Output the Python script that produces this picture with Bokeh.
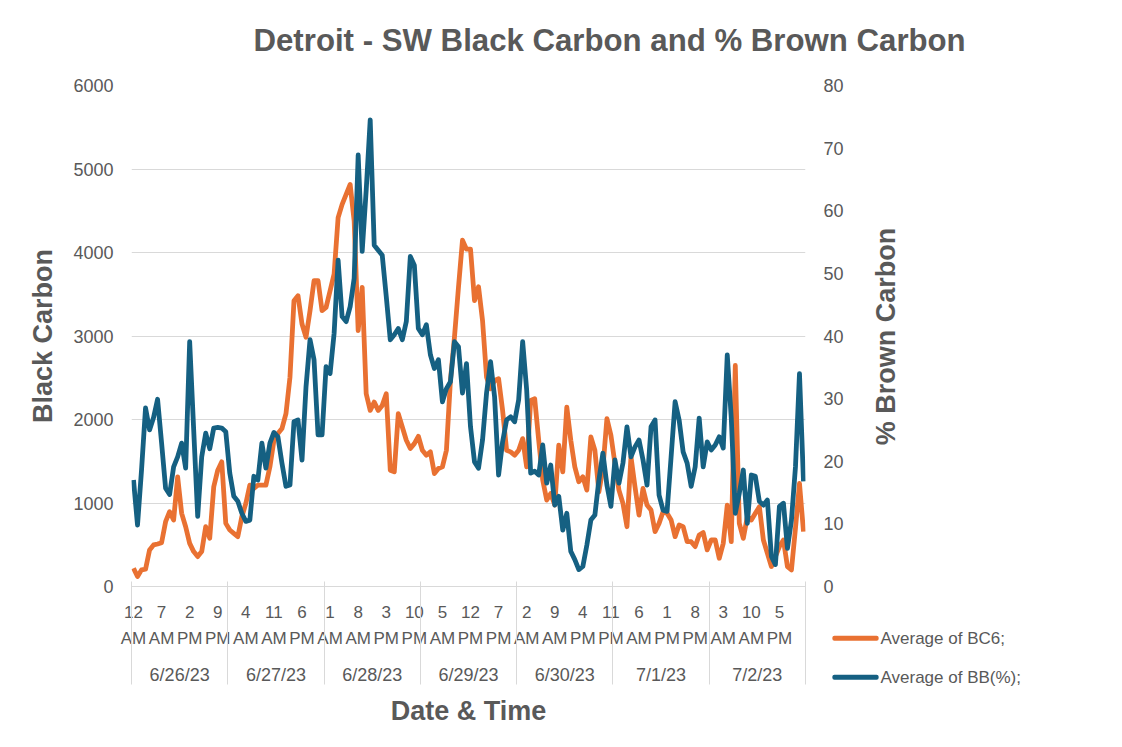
import math
import pandas as pd
from bokeh.plotting import figure
from bokeh.models import Range1d, LinearAxis, FixedTicker, Title, Label
from bokeh.embed import file_html
from bokeh.resources import INLINE

# ---------------- data ----------------
times = pd.date_range("2023-06-26 00:00", periods=168, freq="h")

bc6 = [219, 119, 199, 207, 438, 498, 509, 525, 776, 896, 796, 1313, 876, 716, 517, 418,
       358, 418, 716, 577, 1194, 1393, 1493, 756, 677, 637, 597, 836, 995, 1214, 1174, 1214,
       1214, 1214, 1433, 1751, 1831, 1891, 2070, 2507, 3423, 3483, 3144, 2985, 3303, 3662, 3662, 3303,
       3343, 3542, 3741, 4418, 4577, 4696, 4816, 4378, 3065, 3582, 2308, 2109, 2209, 2109, 2169, 2308,
       1393, 1373, 2070, 1910, 1751, 1652, 1711, 1799, 1632, 1572, 1612, 1353, 1413, 1433, 1632, 2468,
       2985, 3582, 4147, 4040, 4040, 3423, 3590, 3184, 2507, 2368, 2468, 2488, 2109, 1632, 1612, 1572,
       1632, 1771, 1433, 2229, 2249, 1751, 1274, 1035, 1114, 975, 1692, 1373, 2149, 1751, 1433, 1254,
       1313, 1154, 1791, 1632, 1134, 1413, 2010, 1811, 1473, 1154, 995, 716, 1552, 1194, 856, 1174,
       975, 915, 657, 756, 896, 876, 796, 597, 736, 716, 537, 537, 478, 617, 645, 438,
       557, 557, 338, 517, 975, 537, 2647, 756, 577, 836, 796, 876, 955, 557, 398, 239,
       358, 478, 557, 239, 199, 697, 1234, 657]

bb_pct = [17.0, 9.8, 18.6, 28.5, 25.0, 27.0, 29.9, 22.9, 15.7, 14.7, 19.1, 20.7, 22.9, 18.9, 39.1, 25.0,
          11.2, 20.7, 24.5, 22.0, 25.3, 25.4, 25.3, 24.7, 18.1, 14.4, 13.6, 11.7, 10.4, 10.6, 17.6, 17.0,
          22.9, 18.9, 22.9, 24.6, 23.9, 19.7, 16.0, 16.2, 26.3, 26.6, 20.2, 31.9, 39.4, 36.2, 24.2, 24.2,
          35.1, 34.0, 40.4, 52.1, 43.1, 42.3, 44.7, 49.2, 68.9, 53.5, 63.3, 74.5, 54.5, 53.7, 52.9, 46.3,
          39.4, 40.2, 41.2, 39.4, 42.3, 52.7, 51.3, 41.2, 40.2, 41.8, 37.0, 34.8, 36.2, 29.5, 31.6, 32.7,
          39.1, 38.3, 30.9, 35.6, 25.5, 19.9, 18.9, 23.4, 30.9, 35.9, 30.3, 17.8, 23.1, 26.6, 27.1, 26.3,
          29.8, 39.1, 31.4, 18.1, 18.4, 17.8, 22.6, 16.5, 19.4, 13.0, 14.4, 9.0, 11.7, 5.6, 4.3, 2.7,
          3.2, 6.6, 10.6, 11.4, 17.0, 21.3, 16.2, 12.8, 20.2, 16.5, 19.7, 25.5, 20.7, 22.3, 23.4, 20.2,
          16.2, 25.5, 26.6, 14.6, 12.2, 12.0, 20.7, 29.5, 26.6, 21.5, 19.7, 16.0, 19.1, 26.9, 19.1, 23.1,
          21.8, 22.6, 23.9, 22.1, 37.0, 26.9, 11.7, 14.9, 18.6, 10.1, 17.8, 17.6, 13.6, 13.0, 13.8, 4.8,
          3.5, 12.8, 13.3, 6.1, 10.6, 19.1, 34.0, 16.8]

series_names = ["Average of BC6;", "Average of BB(%);"]
bc_ticks = [0, 1000, 2000, 3000, 4000, 5000, 6000]
bb_ticks = [0, 10, 20, 30, 40, 50, 60, 70, 80]
label_step = 7

# derived categories / labels
n = len(times)
idx = list(range(n))
hour_ticks = idx[::label_step]
hour_nums = {i: str((times[i].hour % 12) or 12) for i in hour_ticks}
hour_ampm = {i: ("AM" if times[i].hour < 12 else "PM") for i in hour_ticks}
day_starts = [i for i in idx if times[i].hour == 0]
day_centers = [s + 11.5 for s in day_starts]
day_labels = {c: f"{times[s].month}/{times[s].day}/{times[s].year % 100}" for s, c in zip(day_starts, day_centers)}
day_bounds = [s - 0.499 for s in day_starts] + [n - 0.501]

GREY = "#595959"
GRID = "#d9d9d9"
FONT = "Liberation Sans"
ORANGE = "#E97132"
BLUE = "#156082"

W, H = 1116, 728
FL, FR, FT, FB = 131, 805, 85, 586   # frame edges in page pixels

p = figure(width=W, height=H, output_backend="svg", toolbar_location=None, title=None,
           x_range=Range1d(-0.5, n - 0.5), y_range=Range1d(0, 6000),
           x_axis_type=None, min_border_left=FL, min_border_right=W - FR,
           min_border_top=FT, min_border_bottom=H - FB)
p.extra_y_ranges = {"bb": Range1d(0, 80)}
p.outline_line_color = None
p.background_fill_color = "white"
p.border_fill_color = "white"

# left axis
ya = p.yaxis[0]
ya.ticker = FixedTicker(ticks=bc_ticks)
ya.axis_line_color = None
ya.major_tick_line_color = None
ya.minor_tick_line_color = None
ya.major_tick_out = 0
ya.major_tick_in = 0
ya.major_label_standoff = 18
ya.major_label_text_font = FONT
ya.major_label_text_font_size = "18px"
ya.major_label_text_color = GREY
ya.axis_label = "Black Carbon"
ya.axis_label_text_font = FONT
ya.axis_label_text_font_size = "27px"
ya.axis_label_text_font_style = "bold"
ya.axis_label_text_color = GREY
ya.axis_label_standoff = 12
p.ygrid.grid_line_color = GRID
p.ygrid.grid_line_width = 1

# right axis (ticks only)
yr = LinearAxis(y_range_name="bb", ticker=FixedTicker(ticks=bb_ticks))
yr.axis_line_color = None
yr.major_tick_line_color = None
yr.minor_tick_line_color = None
yr.major_tick_out = 0
yr.major_tick_in = 0
yr.major_label_standoff = 18
yr.major_label_text_font = FONT
yr.major_label_text_font_size = "18px"
yr.major_label_text_color = GREY
p.add_layout(yr, "right")

# right axis title (reads bottom-to-top), placed in the right panel so it is not clipped
right_title = Label(x=885, y=336, x_units="canvas", y_units="canvas", angle=math.pi / 2,
                    text="% Brown Carbon", text_align="center", text_baseline="middle",
                    text_font=FONT, text_font_size="27px", text_font_style="bold",
                    text_color=GREY)
p.add_layout(right_title, "right")

# lines
r_bc = p.line(idx, bc6, color=ORANGE, line_width=4.8, line_join="round")
r_bb = p.line(idx, bb_pct, color=BLUE, line_width=4.8, line_join="round", y_range_name="bb")

# legend (outside the plot area, bottom right): swatch + text for each series
leg_y = [637.7, 676.7]
for k, (name, col) in enumerate(zip(series_names, [ORANGE, BLUE])):
    swatch = Label(x=855, y=leg_y[k], x_units="canvas", y_units="canvas", text=" ",
                   text_align="center", text_baseline="middle", text_font_size="1px",
                   background_fill_color=col, padding=(23, 2), border_radius=2)
    p.add_layout(swatch, "right")
    txt = Label(x=880, y=leg_y[k], x_units="canvas", y_units="canvas", text=name,
                text_align="left", text_baseline="middle", text_font=FONT,
                text_font_size="17px", text_color=GREY)
    p.add_layout(txt, "above" if k == 0 else "right")

main_title = Title(text="Detroit - SW Black Carbon and % Brown Carbon", text_font=FONT,
                   text_font_size="31.2px", text_font_style="bold", text_color=GREY,
                   align="left", offset=122, standoff=18)
p.add_layout(main_title, "above")


def cat_axis(ticks, labels, standoff, size, minor=None):
    ax = LinearAxis(ticker=FixedTicker(ticks=ticks, minor_ticks=minor or []),
                    major_label_overrides=labels)
    ax.major_tick_line_color = None
    ax.major_tick_out = 0
    ax.major_tick_in = 0
    ax.axis_line_color = None
    ax.minor_tick_line_color = None
    ax.minor_tick_out = 0
    ax.minor_tick_in = 0
    ax.major_label_standoff = standoff
    ax.major_label_text_font = FONT
    ax.major_label_text_font_size = size
    ax.major_label_text_color = GREY
    return ax


axA = cat_axis(hour_ticks, hour_nums, 19, "17px")
axA.axis_line_color = GRID
axB = cat_axis(hour_ticks, hour_ampm, 8, "17px")
# date level carries the day separators, reaching up to the plot frame
axC = cat_axis(day_centers, day_labels, -20, "18px", minor=day_bounds)
axC.minor_tick_line_color = GRID
axC.minor_tick_line_width = 1
axC.minor_tick_in = 69
axC.minor_tick_out = 34
axC.axis_label = "Date & Time"
axC.axis_label_text_font = FONT
axC.axis_label_text_font_size = "27px"
axC.axis_label_text_font_style = "bold"
axC.axis_label_text_color = GREY
axC.axis_label_standoff = 8
p.add_layout(axA, "below")
p.add_layout(axB, "below")
p.add_layout(axC, "below")

open("out.html", "w").write(file_html(p, INLINE))
